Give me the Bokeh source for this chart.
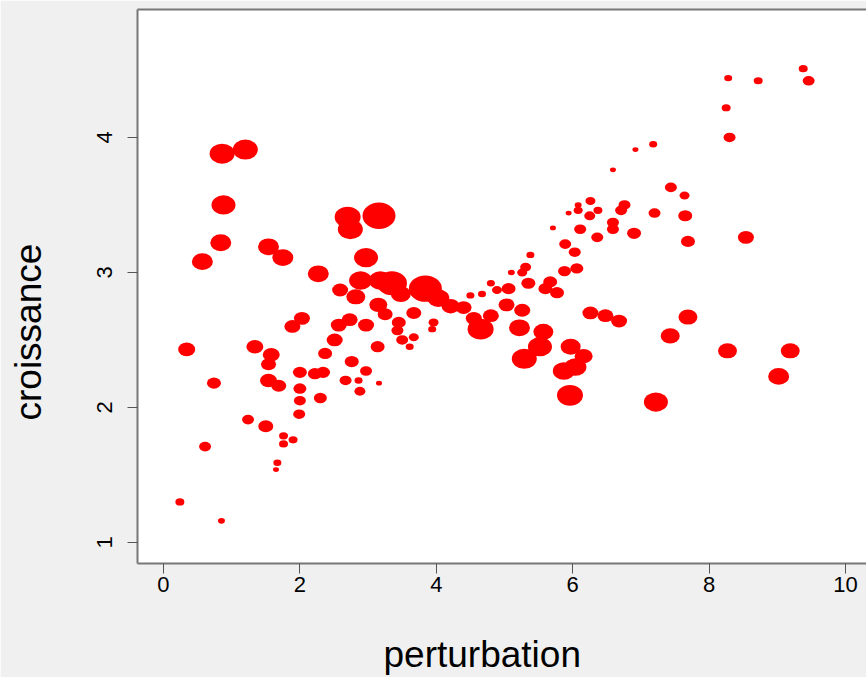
import math
from bokeh.plotting import figure
from bokeh.models import ColumnDataSource, FixedTicker, LinearAxis, BoxAnnotation, Title
from bokeh.embed import file_html
from bokeh.resources import INLINE

perturbation = [0.86, 1.20, 0.88, 0.84, 0.57, 1.54, 1.75, 2.27, 2.70, 2.74, 3.16, 2.97, 0.34, 0.74, 0.61, 0.24, 0.85, 1.34, 1.58, 1.54, 1.54, 1.69, 1.24, 1.50, 1.76, 1.76,
                1.90, 1.67, 1.65, 1.89, 2.03, 2.00, 2.00, 2.00, 1.99, 2.30, 2.22, 2.34, 2.37, 2.51, 2.57, 2.73, 2.97, 3.25, 3.15, 3.14, 2.76, 2.97, 2.67, 2.86, 2.88, 3.16,
                2.59, 2.82, 2.89, 3.18, 3.35, 3.84, 3.48, 3.67, 3.45, 3.50, 3.67, 3.61, 3.96, 3.94, 3.43, 4.03, 4.21, 4.40, 4.65, 4.55, 4.80, 5.03, 5.26, 5.22, 5.29, 5.57,
                5.52, 5.35, 5.38, 5.31, 5.26, 5.10, 4.80, 4.67, 4.50, 4.89, 5.06, 5.67, 5.60, 5.77, 5.88, 6.06, 5.89, 6.03, 5.71, 6.11, 5.94, 6.08, 6.08, 6.26, 6.25, 6.37,
                6.36, 6.59, 6.59, 6.71, 6.76, 6.90, 7.20, 7.44, 7.64, 7.65, 7.69, 6.59, 6.92, 7.18, 8.28, 8.25, 8.30, 8.72, 9.38, 9.46, 8.54, 7.69, 7.43, 8.27, 9.19, 9.02,
                7.22, 6.26, 6.48, 6.68, 5.97, 6.16, 5.87, 6.04, 5.96]

croissance = [3.88, 3.91, 3.50, 3.22, 3.08, 3.19, 3.11, 2.99, 3.41, 3.32, 3.42, 3.11, 2.43, 2.18, 1.71, 1.30, 1.16, 2.45, 2.39, 2.32, 2.20, 2.16, 1.91, 1.86, 1.79, 1.73,
              1.76, 1.59, 1.54, 2.60, 2.66, 2.26, 2.14, 2.05, 1.95, 2.07, 2.25, 2.26, 2.40, 2.50, 2.61, 2.65, 2.61, 2.69, 2.76, 2.45, 2.34, 2.27, 2.20, 2.20, 2.12, 2.18,
              2.87, 2.82, 2.94, 2.94, 2.92, 2.88, 2.84, 2.70, 2.63, 2.50, 2.52, 2.45, 2.63, 2.58, 2.57, 2.81, 2.75, 2.74, 2.58, 2.66, 2.68, 2.76, 2.72, 2.59, 2.36, 2.56,
              2.45, 2.92, 3.13, 3.04, 3.00, 3.00, 2.92, 2.84, 2.83, 2.87, 2.88, 2.93, 2.88, 2.85, 3.01, 3.03, 3.21, 3.15, 3.33, 3.32, 3.44, 3.50, 3.46, 3.53, 3.42, 3.46,
              3.26, 3.37, 3.32, 3.46, 3.50, 3.29, 3.44, 3.63, 3.57, 3.42, 3.23, 3.76, 3.91, 3.95, 4.44, 4.22, 4.00, 4.42, 4.51, 4.42, 3.26, 2.67, 2.53, 2.42, 2.42, 2.23,
              2.04, 2.70, 2.68, 2.64, 2.45, 2.38, 2.27, 2.30, 2.09]

effectif = [25, 25, 24, 21, 21, 21, 21, 21, 26, 25, 33, 24, 17, 14, 12, 9, 7, 17, 17, 15, 17, 15, 12, 15, 9, 9,
            9, 8, 6, 16, 16, 14, 13, 12, 12, 13, 14, 14, 14, 16, 16, 16, 16, 15, 18, 14, 14, 12, 12, 8, 11, 6,
            16, 19, 23, 23, 30, 33, 20, 15, 14, 12, 10, 8, 10, 8, 12, 22, 18, 16, 26, 16, 16, 16, 16, 21, 25, 20,
            24, 14, 8, 11, 10, 7, 8, 8, 8, 10, 14, 14, 14, 14, 13, 13, 12, 12, 6, 12, 6, 7, 9, 10, 11, 9,
            12, 12, 12, 12, 12, 14, 12, 12, 10, 14, 14, 6, 6, 8, 8, 9, 12, 9, 9, 12, 16, 19, 19, 19, 19, 21,
            24, 16, 16, 16, 20, 18, 22, 22, 26]

x_ticks = [0, 2, 4, 6, 8, 10]
y_ticks = [1, 2, 3, 4]

FONT = "Liberation Sans"
GRAY = "#f0f0f0"
X_START, X_END = -0.381, 10.308
Y_START, Y_END = 0.844, 4.948

src = ColumnDataSource(dict(
    x=perturbation, y=croissance,
    w=[e * 1.0 for e in effectif],
    h=[e / 1.25 for e in effectif],
))

p = figure(width=866, height=677, output_backend="svg", toolbar_location=None,
           x_range=(X_START, X_END), y_range=(Y_START, Y_END),
           min_border_left=137, min_border_right=0, min_border_top=9, min_border_bottom=114)
p.border_fill_color = GRAY
p.background_fill_color = "white"
p.outline_line_color = None
p.xgrid.visible = False
p.ygrid.visible = False

# white page areas
p.add_layout(BoxAnnotation(left=72, right=870, top=-5, bottom=614,
                           left_units="canvas", right_units="canvas", top_units="canvas", bottom_units="canvas",
                           fill_color="white", fill_alpha=1, line_color=None, level="underlay"))
p.add_layout(BoxAnnotation(left=-5, right=73, top=-5, bottom=263,
                           left_units="canvas", right_units="canvas", top_units="canvas", bottom_units="canvas",
                           fill_color="white", fill_alpha=1, line_color=None, level="underlay"))

p.ellipse(x="x", y="y", width="w", height="h", width_units="screen", height_units="screen",
          source=src, fill_color="#ff0000", line_color=None)

for ax in (p.xaxis[0], p.yaxis[0]):
    ax.axis_line_color = "#777777"
    ax.axis_line_width = 2
    ax.major_tick_line_color = "#555555"
    ax.major_tick_line_width = 1
    ax.major_tick_out = 10
    ax.major_tick_in = 0
    ax.minor_tick_line_color = None
    ax.major_label_text_font = FONT
    ax.major_label_text_font_size = "22px"
    ax.major_label_text_color = "black"

p.xaxis[0].ticker = FixedTicker(ticks=x_ticks)
p.yaxis[0].ticker = FixedTicker(ticks=y_ticks)
p.yaxis[0].major_label_orientation = "vertical"
p.xaxis[0].major_label_standoff = 3
p.yaxis[0].major_label_standoff = 15


def blank_axis(space, at):
    # invisible axis used only to reserve room between tick labels and titles
    return LinearAxis(ticker=FixedTicker(ticks=[at]), axis_line_color=None,
                      major_tick_line_color="white", major_tick_line_alpha=0.01,
                      minor_tick_line_color=None,
                      major_tick_out=space, major_tick_in=0, minor_tick_out=0,
                      major_label_text_color=None, major_label_standoff=0)


top = LinearAxis(ticker=FixedTicker(ticks=[]), axis_line_color="#777777", axis_line_width=2,
                 major_tick_line_color=None, minor_tick_line_color=None,
                 major_tick_out=0, major_label_text_font_size="0px", major_label_standoff=0)
p.add_layout(top, "above")

p.add_layout(blank_axis(46, Y_END), "left")
p.add_layout(blank_axis(37, X_END), "below")

p.add_layout(Title(text="croissance", align="left", offset=143, standoff=0,
                   text_font=FONT, text_font_size="37px", text_font_style="normal",
                   text_color="black"), "left")
p.add_layout(Title(text="perturbation", align="left", offset=246, standoff=0,
                   text_font=FONT, text_font_size="37px", text_font_style="normal",
                   text_color="black"), "below")

open("out.html", "w").write(file_html(p, INLINE))
